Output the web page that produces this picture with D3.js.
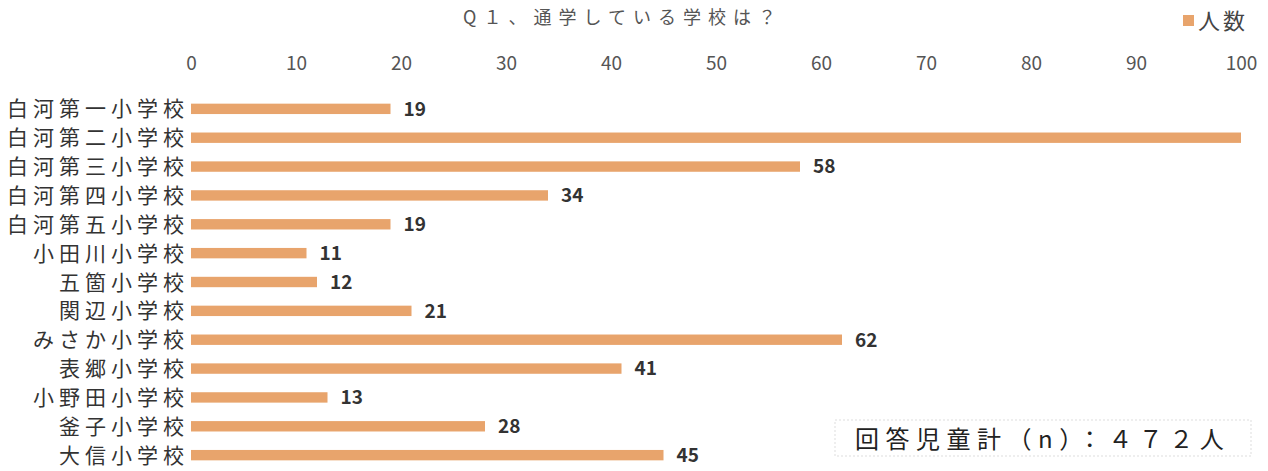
<!DOCTYPE html>
<html>
<head>
<meta charset="utf-8">
<script src="https://cdn.jsdelivr.net/npm/d3@7"></script>
<style>
  body { margin: 0; background: #fff; }
  text { font-family: "Noto Sans CJK JP", "Noto Sans", sans-serif; }
</style>
</head>
<body>
<div id="chart"></div>
<script>
const schools = [
  "白河第一小学校", "白河第二小学校", "白河第三小学校", "白河第四小学校",
  "白河第五小学校", "小田川小学校", "五箇小学校", "関辺小学校",
  "みさか小学校", "表郷小学校", "小野田小学校", "釜子小学校", "大信小学校"
];
// 第二小 runs past the axis end; 472 total minus the rest gives 109
const counts = [19, 109, 58, 34, 19, 11, 12, 21, 62, 41, 13, 28, 45];
const xTicks = [0, 10, 20, 30, 40, 50, 60, 70, 80, 90, 100];

const width = 1268;
const height = 471;
const barColor = "#e8a46c";

const svg = d3.select("#chart")
  .append("svg")
  .attr("width", width)
  .attr("height", height);

const x = d3.scaleLinear()
  .domain([0, 100])
  .range([191, 1241])
  .clamp(true);

const y = d3.scaleBand()
  .domain(schools)
  .range([95, 469])
  .paddingInner(0.64)
  .paddingOuter(0.3);

// title
svg.append("text")
  .attr("x", 623)
  .attr("y", 24)
  .attr("text-anchor", "middle")
  .attr("font-size", 18)
  .attr("letter-spacing", 7)
  .attr("fill", "#555")
  .text("Q１、通学している学校は？");

// legend
svg.append("rect")
  .attr("x", 1183)
  .attr("y", 15)
  .attr("width", 11)
  .attr("height", 11)
  .attr("fill", barColor);

svg.append("text")
  .attr("x", 1198)
  .attr("y", 29)
  .attr("font-size", 22)
  .attr("letter-spacing", 3)
  .attr("fill", "#444")
  .text("人数");

// top axis, labels only
const axis = svg.append("g")
  .attr("transform", "translate(0,70)")
  .call(d3.axisTop(x).tickValues(xTicks).tickSize(0).tickPadding(0));

axis.select(".domain").remove();
axis.selectAll("text")
  .attr("font-family", "'Open Sans', sans-serif")
  .attr("font-size", 19)
  .attr("fill", "#555");

// category labels
svg.append("g")
  .selectAll("text")
  .data(schools)
  .join("text")
  .attr("x", 189)
  .attr("y", d => y(d) + y.bandwidth() / 2)
  .attr("dy", "0.36em")
  .attr("text-anchor", "end")
  .attr("font-size", 21)
  .attr("letter-spacing", 5)
  .attr("fill", "#333")
  .text(d => d);

// bars
svg.append("g")
  .selectAll("rect")
  .data(counts)
  .join("rect")
  .attr("x", x(0))
  .attr("y", (d, i) => y(schools[i]))
  .attr("width", d => x(d) - x(0))
  .attr("height", y.bandwidth())
  .attr("fill", barColor);

// value labels (the one past the axis end is cut off)
svg.append("g")
  .selectAll("text")
  .data(counts.map((v, i) => ({ v, s: schools[i] })).filter(d => d.v <= 100))
  .join("text")
  .attr("x", d => x(d.v) + 13)
  .attr("y", d => y(d.s) + y.bandwidth() / 2)
  .attr("dy", "0.36em")
  .attr("font-family", "'Open Sans', sans-serif")
  .attr("font-weight", "bold")
  .attr("font-size", 19)
  .attr("fill", "#333")
  .text(d => d.v);

// total box
svg.append("rect")
  .attr("x", 835)
  .attr("y", 420)
  .attr("width", 416)
  .attr("height", 36)
  .attr("fill", "#fff")
  .attr("stroke", "#ddd")
  .attr("stroke-dasharray", "2,2");

svg.append("text")
  .attr("x", 855)
  .attr("y", 448)
  .attr("font-size", 24)
  .attr("letter-spacing", 6.5)
  .attr("fill", "#222")
  .text("回答児童計（n）：４７２人");
</script>
</body>
</html>
